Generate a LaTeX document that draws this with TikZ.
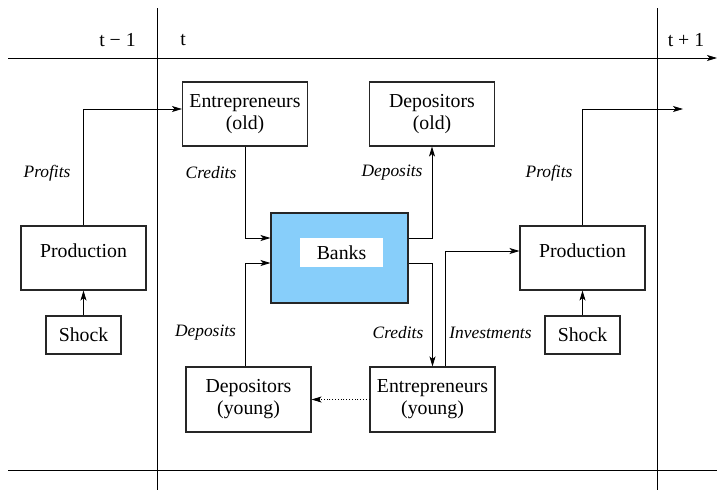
\documentclass[tikz,border=0pt]{standalone}
\usepackage{fontspec}
\setmainfont{Liberation Serif}
\usetikzlibrary{arrows.meta,calc}
\definecolor{bankblue}{RGB}{135,206,250}
\begin{document}
\begin{tikzpicture}[x=1pt,y=-1pt,
  font=\fontsize{19.8}{22}\selectfont,
  box/.style={draw=black!85,line width=1.1pt,minimum width=125pt,minimum height=64pt,inner sep=0pt,align=center},
  shockbox/.style={draw=black!85,line width=1.1pt,minimum width=75pt,minimum height=38pt,inner sep=0pt},
  lbl/.style={font=\fontsize{17.4}{20}\selectfont\itshape,inner sep=0pt},
  tlbl/.style={inner sep=0pt},
  conn/.style={line width=0.8pt,-{Stealth[length=10pt,width=6pt,inset=2.5pt]}},
  axis/.style={line width=0.8pt}
]
\useasboundingbox (0,0) rectangle (717,490);
% axes
\coordinate (axL) at (8,58);
\coordinate (axR) at (717,58);
\coordinate (btL) at (8,470);
\coordinate (btR) at (717,470);
\coordinate (v1t) at (157,8);
\coordinate (v1b) at (157,490);
\coordinate (v2t) at (657,8);
\coordinate (v2b) at (657,490);
\draw[axis,-{Stealth[length=10pt,width=6pt,inset=2.5pt]}] (axL) -- (axR);
\draw[axis] (btL) -- (btR);
\draw[axis] (v1t) -- (v1b);
\draw[axis] (v2t) -- (v2b);
\node[tlbl] (tm) at (117.5,40) {t − 1};
\node[tlbl] (t0) at (183,40) {t};
\node[tlbl] (tp) at (686,40) {t + 1};
% boxes
\node[box] (prodL) at (83.5,258) {};
\node[inner sep=0pt] (prodLt) at (83.5,251) {Production};
\node[shockbox] (shockL) at (83.5,335) {Shock};
\node[box] (entOld) at (245,114) {Entrepreneurs\\(old)};
\node[box] (depOld) at (432,114) {Depositors\\(old)};
\node[draw=black!85,line width=1.1pt,fill=bankblue,minimum width=137pt,minimum height=90pt,inner sep=0pt] (banks) at (339.5,258) {};
\node[fill=white,minimum width=83pt,minimum height=29pt,inner sep=0pt] (bankslbl) at (341.5,252.5) {Banks};
\node[box] (prodR) at (582.5,258) {};
\node[inner sep=0pt] (prodRt) at (582.5,251) {Production};
\node[shockbox] (shockR) at (582.5,335) {Shock};
\node[box,minimum height=65pt] (depYoung) at (248.5,399.5) {Depositors\\(young)};
\node[box,minimum height=65pt] (entYoung) at (432.5,399.5) {Entrepreneurs\\(young)};
% coordinates
\coordinate (pl) at (0,109);
\coordinate (cr) at (0,238);
\coordinate (dp) at (0,263);
\coordinate (iv) at (445,251);
\coordinate (outR) at (683,109);
% connectors
\draw[conn] (prodL.north) |- (pl -| entOld.west);
\draw[conn] (shockL.north) -- (prodL.south);
\draw[conn] (entOld.south) |- (cr -| banks.west);
\draw[conn] (depYoung.north -| entOld.south) |- (dp -| banks.west);
\draw[conn] (cr -| banks.east) -| (depOld.south);
\draw[conn] (dp -| banks.east) -| (entYoung.north);
\draw[conn] (entYoung.north -| iv) |- (iv -| prodR.west);
\draw[conn] (prodR.north) |- (outR);
\draw[conn] (shockR.north) -- (prodR.south);
\draw[line width=0.8pt,dotted,-{Stealth[length=10pt,width=6pt,inset=2.5pt]}] (entYoung.west) -- (depYoung.east);
% labels
\node[lbl] (lp1) at (47,173) {Profits};
\node[lbl] (lc1) at (211,173) {Credits};
\node[lbl] (ld1) at (392,173) {Deposits};
\node[lbl] (lp2) at (549,173) {Profits};
\node[lbl] (ld2) at (205.5,333) {Deposits};
\node[lbl] (lc2) at (398,333) {Credits};
\node[lbl] (li) at (490.5,333) {Investments};
\end{tikzpicture}
\end{document}
